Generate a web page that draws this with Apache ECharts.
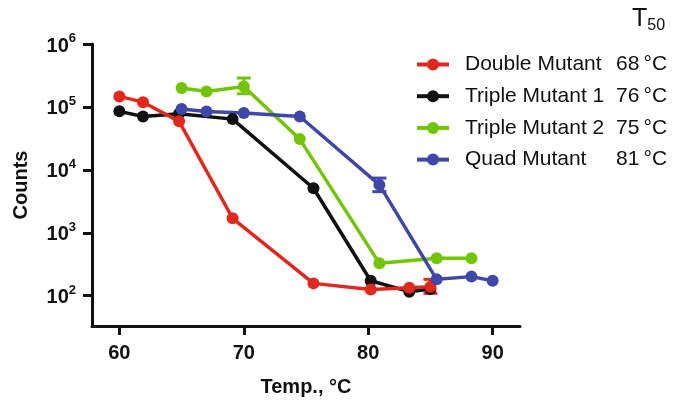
<!DOCTYPE html>
<html>
<head>
<meta charset="utf-8">
<script src="https://cdn.jsdelivr.net/npm/echarts@6/dist/echarts.min.js"></script>
<style>
  html, body { margin: 0; padding: 0; background: #fff; }
  #chart { width: 677px; height: 404px; }
</style>
</head>
<body>
<div id="chart"></div>
<script>
// Temperatures (°C) sampled for each construct
var tempsDoubleTriple = [60, 61.9, 64.8, 69.1, 75.6, 80.2, 83.3, 85.0];
var tempsTripleQuad = [65, 67, 70, 74.5, 80.9, 85.5, 88.3, 90.0];

// Counts per construct
var doubleMutant = [147000, 119000, 59000, 1700, 157, 126, 134, 139];
var tripleMutant1 = [85000, 70500, 78000, 64000, 5100, 173, 116, 128];
var tripleMutant2 = [200000, 176000, 211000, 30800, 327, 393, 393];
var quadMutant = [92500, 84700, 79800, 70500, 5770, 182, 201, 173];

// Error bars: [temperature, low, high]
var errDouble = [[85.0, 109, 182]];
var errTriple2 = [[70, 162000, 288000]];
var errQuad = [[80.9, 4500, 7400]];

// Legend names and T50 values
var seriesNames = ['Double Mutant', 'Triple Mutant 1', 'Triple Mutant 2', 'Quad Mutant'];
var t50Labels = ['68\u2009°C', '76\u2009°C', '75\u2009°C', '81\u2009°C'];

// Axis tick values
var xTicks = [60, 70, 80, 90];
var yTicks = [100, 1000, 10000, 100000, 1000000];

var colors = {
  'Double Mutant': '#e1281c',
  'Triple Mutant 1': '#111111',
  'Triple Mutant 2': '#72c406',
  'Quad Mutant': '#3f47a9'
};

var FONT = '"Liberation Sans", Arial, Helvetica, sans-serif';

function pairs(xs, ys) {
  return ys.map(function (v, i) { return [xs[i], v]; });
}

function lineSeries(name, xs, ys) {
  return {
    name: name,
    type: 'line',
    data: pairs(xs, ys),
    symbol: 'circle',
    symbolSize: 12,
    showAllSymbol: true,
    color: colors[name],
    lineStyle: { width: 3.5, color: colors[name] },
    itemStyle: { color: colors[name] },
    emphasis: { disabled: true }
  };
}

function errorSeries(name, data) {
  return {
    name: name,
    type: 'custom',
    data: data,
    encode: { x: 0, y: [1, 2] },
    z: 3,
    renderItem: function (params, api) {
      var x = api.value(0);
      var lo = api.coord([x, api.value(1)]);
      var hi = api.coord([x, api.value(2)]);
      var half = 7;
      var style = { stroke: colors[name], lineWidth: 3 };
      return {
        type: 'group',
        children: [
          { type: 'line', shape: { x1: lo[0], y1: lo[1], x2: hi[0], y2: hi[1] }, style: style },
          { type: 'line', shape: { x1: lo[0] - half, y1: lo[1], x2: lo[0] + half, y2: lo[1] }, style: style },
          { type: 'line', shape: { x1: hi[0] - half, y1: hi[1], x2: hi[0] + half, y2: hi[1] }, style: style }
        ]
      };
    }
  };
}

var chart = echarts.init(document.getElementById('chart'), null, { renderer: 'canvas' });

var option = {
  animation: false,
  backgroundColor: '#fff',
  textStyle: { fontFamily: FONT },
  title: {
    text: '{a|T}{b|50}',
    left: 632,
    top: 4,
    padding: 0,
    textStyle: {
      fontWeight: 'normal',
      rich: {
        a: { fontFamily: FONT, fontSize: 25, fontWeight: 'normal', lineHeight: 30, color: '#111', verticalAlign: 'middle' },
        b: { fontFamily: FONT, fontSize: 16, fontWeight: 'normal', lineHeight: 13, color: '#111', verticalAlign: 'bottom' }
      }
    }
  },
  legend: {
    orient: 'vertical',
    left: 415,
    top: 54,
    padding: 0,
    itemWidth: 32,
    itemHeight: 15,
    itemGap: 10.7,
    data: seriesNames,
    selectedMode: false,
    lineStyle: { width: 4 },
    formatter: function (name) {
      var idx = seriesNames.indexOf(name);
      return '{n|' + name + '}{t|' + t50Labels[idx] + '}';
    },
    textStyle: {
      rich: {
        n: { fontFamily: FONT, fontSize: 21, lineHeight: 21, color: '#111', width: 151, padding: [0, 0, 0, 11] },
        t: { fontFamily: FONT, fontSize: 21, lineHeight: 21, color: '#111' }
      }
    }
  },
  grid: {
    left: 92,
    right: 157,
    top: 44,
    bottom: 78,
    containLabel: false
  },
  xAxis: {
    type: 'value',
    min: 57.8,
    max: 92.2,
    name: 'Temp., °C',
    nameLocation: 'middle',
    nameGap: 51,
    nameTextStyle: { fontFamily: FONT, fontSize: 20, fontWeight: 'bold', color: '#111' },
    axisLine: { show: true, lineStyle: { color: '#111', width: 3 } },
    axisTick: { show: true, inside: false, length: 9, lineStyle: { color: '#111', width: 3 }, customValues: xTicks },
    axisLabel: { margin: 17, fontFamily: FONT, fontSize: 20, fontWeight: 'bold', color: '#111', customValues: xTicks },
    splitLine: { show: false }
  },
  yAxis: {
    type: 'log',
    logBase: 10,
    min: 33,
    max: 1000000,
    name: 'Counts',
    nameLocation: 'middle',
    nameGap: 61,
    nameTextStyle: { fontFamily: FONT, fontSize: 20, fontWeight: 'bold', color: '#111' },
    axisLine: { show: true, lineStyle: { color: '#111', width: 3 } },
    axisTick: { show: true, inside: false, length: 9, lineStyle: { color: '#111', width: 3 }, customValues: yTicks },
    axisLabel: {
      margin: 16,
      customValues: yTicks,
      formatter: function (v) {
        var p = Math.round(Math.log10(v));
        return '{b|10}{s|' + p + '}';
      },
      rich: {
        b: { fontFamily: FONT, fontSize: 20, fontWeight: 'bold', color: '#111', lineHeight: 24, verticalAlign: 'bottom' },
        s: { fontFamily: FONT, fontSize: 13, fontWeight: 'bold', color: '#111', lineHeight: 14, verticalAlign: 'top' }
      }
    },
    splitLine: { show: false }
  },
  series: [
    lineSeries('Triple Mutant 1', tempsDoubleTriple, tripleMutant1),
    lineSeries('Triple Mutant 2', tempsTripleQuad, tripleMutant2),
    errorSeries('Triple Mutant 2', errTriple2),
    lineSeries('Double Mutant', tempsDoubleTriple, doubleMutant),
    errorSeries('Double Mutant', errDouble),
    lineSeries('Quad Mutant', tempsTripleQuad, quadMutant),
    errorSeries('Quad Mutant', errQuad)
  ]
};

chart.setOption(option);
</script>
</body>
</html>
